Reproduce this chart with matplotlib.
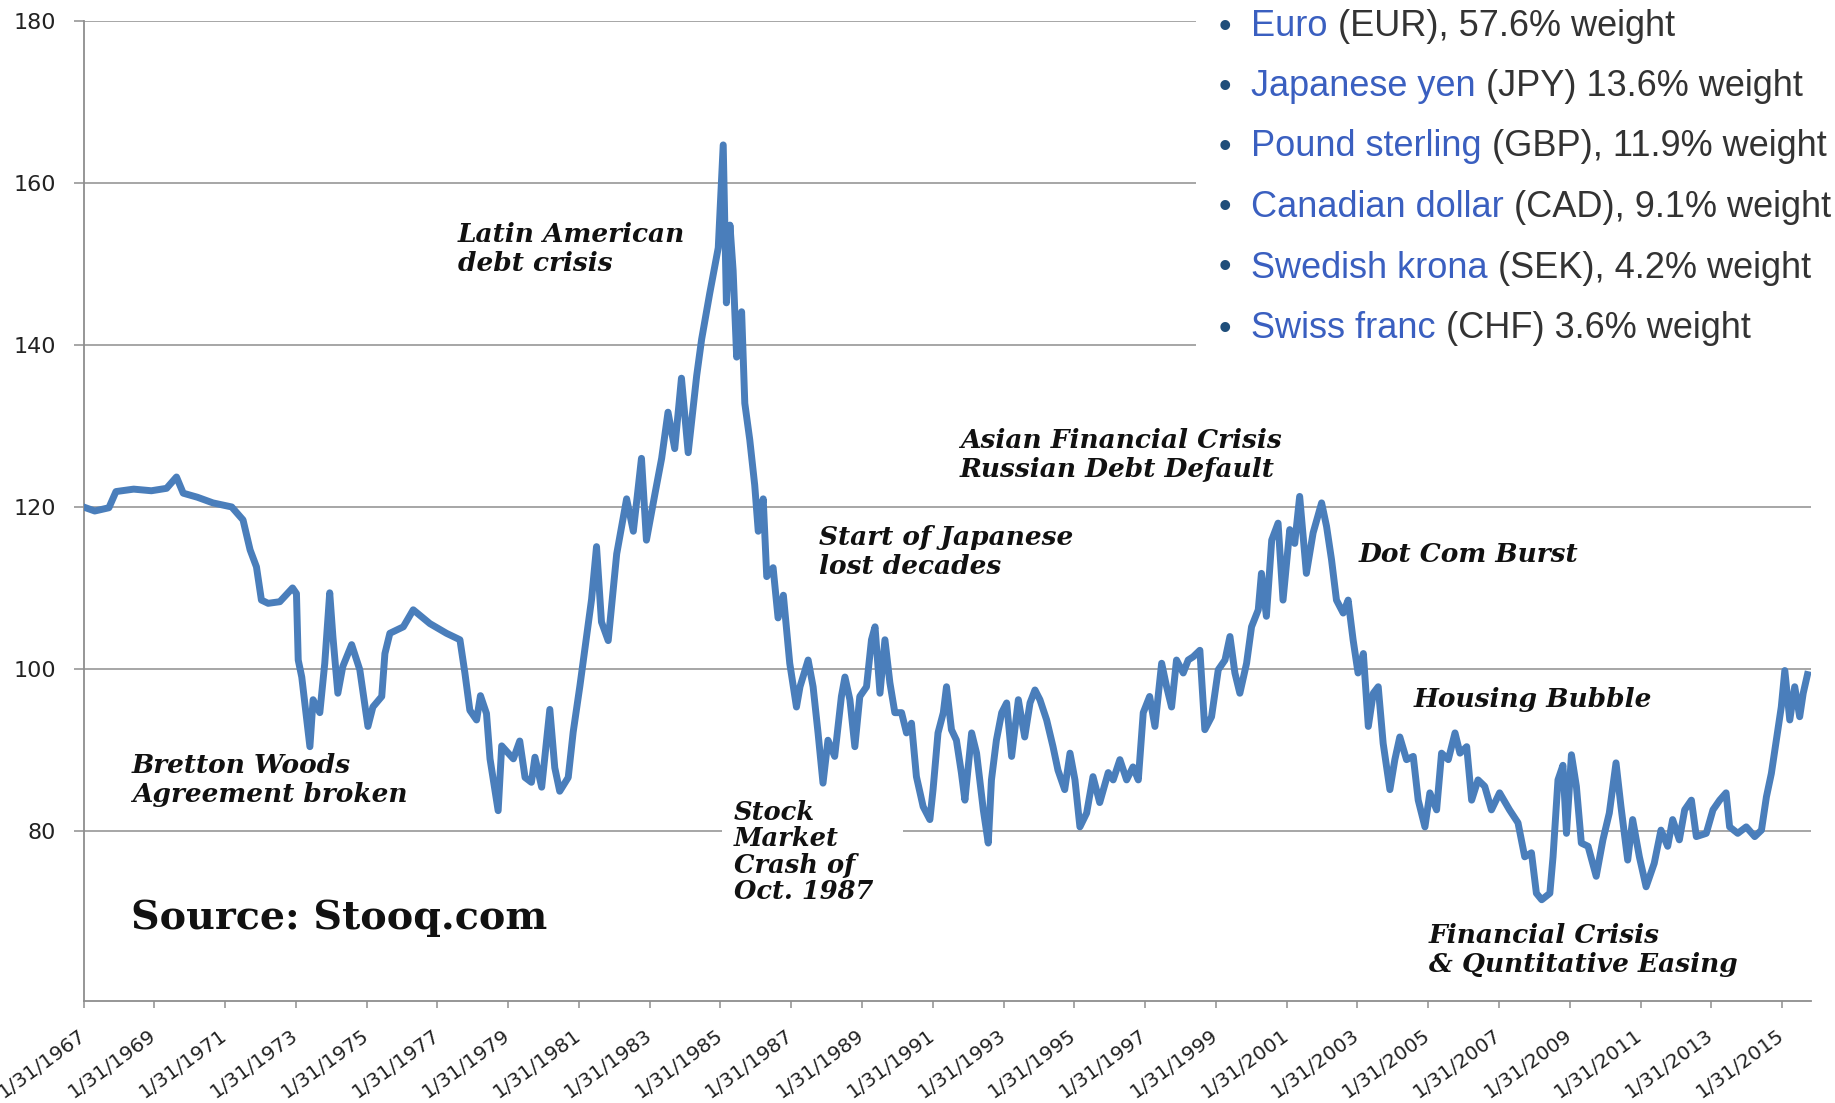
import matplotlib
matplotlib.use('Agg')
import matplotlib.pyplot as plt
from matplotlib.patches import Rectangle

# US dollar index (decimal year, value)
years = [1967.08, 1967.4, 1967.8, 1968.0, 1968.5, 1969.0, 1969.43, 1969.71, 1969.9, 1970.3,
         1970.74, 1971.27, 1971.59, 1971.79, 1971.97, 1972.11, 1972.3, 1972.63, 1972.99, 1973.1,
         1973.15, 1973.25, 1973.48, 1973.57, 1973.76, 1973.9, 1974.04, 1974.13, 1974.27, 1974.41,
         1974.66, 1974.89, 1975.12, 1975.26, 1975.51, 1975.6, 1975.74, 1976.12, 1976.4, 1976.87,
         1977.34, 1977.72, 1977.86, 1978.0, 1978.19, 1978.3, 1978.47, 1978.57, 1978.8, 1978.9,
         1979.23, 1979.41, 1979.56, 1979.74, 1979.84, 1980.03, 1980.26, 1980.4, 1980.54, 1980.78,
         1980.92, 1981.11, 1981.3, 1981.44, 1981.58, 1981.72, 1981.91, 1982.15, 1982.43, 1982.62,
         1982.85, 1982.99, 1983.23, 1983.42, 1983.6, 1983.79, 1983.98, 1984.17, 1984.41, 1984.55,
         1984.78, 1985.02, 1985.16, 1985.25, 1985.35, 1985.44, 1985.54, 1985.68, 1985.77, 1985.91,
         1986.05, 1986.15, 1986.29, 1986.39, 1986.57, 1986.71, 1986.86, 1987.04, 1987.23, 1987.33,
         1987.56, 1987.7, 1987.84, 1987.98, 1988.12, 1988.31, 1988.5, 1988.6, 1988.74, 1988.88,
         1989.02, 1989.21, 1989.35, 1989.45, 1989.59, 1989.73, 1989.87, 1990.01, 1990.2, 1990.34,
         1990.48, 1990.62, 1990.81, 1991.0, 1991.09, 1991.23, 1991.38, 1991.47, 1991.61, 1991.75,
         1991.89, 1991.99, 1992.18, 1992.32, 1992.51, 1992.65, 1992.74, 1992.88, 1993.03, 1993.17,
         1993.31, 1993.5, 1993.68, 1993.83, 1993.97, 1994.11, 1994.3, 1994.48, 1994.62, 1994.81,
         1994.96, 1995.1, 1995.24, 1995.43, 1995.61, 1995.8, 1996.04, 1996.18, 1996.37, 1996.56,
         1996.74, 1996.89, 1997.03, 1997.21, 1997.36, 1997.55, 1997.69, 1997.83, 1997.97, 1998.16,
         1998.3, 1998.44, 1998.63, 1998.77, 1998.96, 1999.15, 1999.34, 1999.48, 1999.62, 1999.76,
         1999.95, 2000.09, 2000.28, 2000.37, 2000.51, 2000.66, 2000.84, 2000.98, 2001.17, 2001.31,
         2001.45, 2001.64, 2001.83, 2002.07, 2002.21, 2002.35, 2002.49, 2002.68, 2002.82, 2002.96,
         2003.1, 2003.25, 2003.39, 2003.53, 2003.67, 2003.81, 2004.0, 2004.14, 2004.28, 2004.47,
         2004.66, 2004.8, 2004.99, 2005.13, 2005.32, 2005.46, 2005.65, 2005.84, 2005.98, 2006.17,
         2006.31, 2006.49, 2006.68, 2006.87, 2007.1, 2007.38, 2007.62, 2007.81, 2008.0, 2008.14,
         2008.29, 2008.52, 2008.61, 2008.75, 2008.89, 2008.99, 2009.13, 2009.27, 2009.41, 2009.6,
         2009.83, 2010.02, 2010.2, 2010.39, 2010.53, 2010.72, 2010.86, 2011.05, 2011.24, 2011.47,
         2011.66, 2011.85, 2011.99, 2012.18, 2012.33, 2012.52, 2012.66, 2012.94, 2013.13, 2013.32,
         2013.5, 2013.6, 2013.83, 2014.07, 2014.31, 2014.5, 2014.64, 2014.78, 2014.92, 2015.06,
         2015.16, 2015.3, 2015.44, 2015.58, 2015.68, 2015.8]
values = [120.0, 119.5, 119.9, 121.9, 122.2, 122.0, 122.3, 123.7, 121.7, 121.2,
          120.5, 120.0, 118.4, 114.7, 112.6, 108.5, 108.1, 108.3, 110.0, 109.3,
          101.1, 99.0, 90.4, 96.2, 94.6, 100.7, 109.4, 104.0, 97.0, 100.3,
          103.0, 99.9, 92.9, 95.3, 96.6, 101.9, 104.4, 105.2, 107.3, 105.6,
          104.4, 103.6, 99.5, 94.9, 93.7, 96.7, 94.5, 88.9, 82.5, 90.5,
          88.9, 91.1, 86.6, 86.0, 89.1, 85.4, 95.0, 87.8, 84.9, 86.6,
          92.2, 97.9, 104.1, 108.6, 115.1, 105.8, 103.5, 114.2, 121.0, 117.0,
          126.0, 115.9, 121.6, 126.0, 131.7, 127.2, 135.9, 126.7, 136.2, 140.7,
          146.4, 152.0, 164.7, 145.2, 154.8, 149.2, 138.5, 144.1, 132.8, 128.3,
          122.7, 117.0, 121.0, 111.4, 112.5, 106.3, 109.1, 100.7, 95.3, 97.8,
          101.1, 97.8, 92.1, 85.9, 91.2, 89.2, 96.6, 99.0, 96.2, 90.4,
          96.6, 97.8, 103.6, 105.2, 97.0, 103.6, 98.3, 94.6, 94.6, 92.1,
          93.3, 86.7, 83.0, 81.4, 85.1, 92.1, 94.6, 97.8, 92.5, 91.2,
          87.2, 83.8, 92.1, 89.6, 82.6, 78.5, 86.3, 91.2, 94.6, 95.8,
          89.2, 96.2, 91.6, 95.8, 97.4, 96.2, 93.7, 90.4, 87.5, 85.1,
          89.6, 86.3, 80.5, 82.2, 86.7, 83.5, 87.2, 86.3, 88.8, 86.3,
          87.9, 86.3, 94.6, 96.6, 92.9, 100.7, 97.8, 95.3, 101.1, 99.5,
          101.1, 101.5, 102.3, 92.5, 94.1, 99.9, 101.1, 104.0, 99.5, 97.0,
          100.7, 105.2, 107.3, 111.8, 106.5, 115.9, 118.0, 108.5, 117.2, 115.5,
          121.3, 111.8, 116.8, 120.5, 117.6, 113.5, 108.5, 106.9, 108.5, 103.6,
          99.5, 101.9, 92.9, 97.0, 97.8, 90.8, 85.1, 88.8, 91.6, 88.8,
          89.2, 83.8, 80.5, 84.7, 82.6, 89.6, 88.8, 92.1, 89.6, 90.4,
          83.8, 86.3, 85.5, 82.6, 84.7, 82.6, 81.0, 76.8, 77.3, 72.3,
          71.5, 72.3, 76.8, 86.3, 88.1, 79.7, 89.4, 85.5, 78.5, 78.1,
          74.4, 78.9, 82.2, 88.4, 83.0, 76.4, 81.4, 76.8, 73.1, 76.0,
          80.1, 78.1, 81.4, 78.9, 82.6, 83.8, 79.3, 79.7, 82.6, 83.8,
          84.7, 80.5, 79.7, 80.5, 79.3, 80.1, 84.2, 87.1, 91.2, 95.3,
          99.8, 93.7, 97.8, 94.1, 97.0, 99.3]

tick_years = list(range(1967, 2016, 2))
ytick_vals = [80, 100, 120, 140, 160, 180]

basket_names = ['Euro', 'Japanese yen', 'Pound sterling', 'Canadian dollar',
                'Swedish krona', 'Swiss franc']
basket_rest = [' (EUR), 57.6% weight', ' (JPY) 13.6% weight', ' (GBP), 11.9% weight',
               ' (CAD), 9.1% weight', ' (SEK), 4.2% weight', ' (CHF) 3.6% weight']

event_labels = ['Latin American\ndebt crisis', 'Bretton Woods\nAgreement broken',
                'Start of Japanese\nlost decades', 'Asian Financial Crisis\nRussian Debt Default',
                'Dot Com Burst', 'Housing Bubble', 'Financial Crisis\n& Quntitative Easing']
event_px = [(458, 249), (132, 780), (819, 552), (960, 455), (1359, 554), (1414, 700), (1429, 950)]

W, H = 1835, 1103
GRID = '#8e8e8e'
BLUE = '#4a7ebb'


def px(x, y):
    return x / W, 1 - y / H


fig = plt.figure(figsize=(W / 100, H / 100), dpi=100)
ax = fig.add_axes([83.5 / W, 1 - 1001 / H, (1811 - 83.5) / W, (1001 - 21) / H])

ax.plot(years, values, color=BLUE, lw=5, solid_joinstyle='round', zorder=3)

ax.set_ylim(59, 180)
ax.set_yticks(ytick_vals)
ax.set_yticklabels([str(v) for v in ytick_vals], fontsize=16, color='#222222')
xt = [y + 30 / 365 for y in tick_years]
ax.set_xlim(xt[0], 2015.9)
ax.set_xticks(xt)
ax.set_xticklabels(['1/31/%d' % y for y in tick_years], fontsize=14.5, color='#222222')
for lab in ax.get_xticklabels():
    lab.set_rotation(36)
    lab.set_ha('right')
    lab.set_va('center')
    lab.set_rotation_mode('anchor')

ax.grid(axis='y', color=GRID, lw=1.1)
ax.set_axisbelow(True)
for s in ['top', 'right']:
    ax.spines[s].set_visible(False)
for s in ['left', 'bottom']:
    ax.spines[s].set_color(GRID)
    ax.spines[s].set_linewidth(1.3)
ax.tick_params(axis='y', length=7, width=1.1, color=GRID, pad=13)
ax.tick_params(axis='x', length=5, width=1.1, color=GRID, pad=18)

# white box behind the currency basket list
ax.add_patch(Rectangle(px(1196, 356), (W - 1196) / W, 356 / H, transform=fig.transFigure,
                       facecolor='white', edgecolor='none', clip_on=False, zorder=1.5))

row_y = [27, 87, 147, 208, 268, 329]
for name, rest, ry in zip(basket_names, basket_rest, row_y):
    fig.text(*px(1225, ry), '\u2022', fontsize=26, color='#1f4e7a', ha='center', va='center',
             family='Liberation Sans', zorder=4)
    t1 = fig.text(*px(1251, ry), name, fontsize=26, color='#3a5fc0', ha='left', va='center',
                  family='Liberation Sans', zorder=4)
    ax.annotate(rest, xy=(1, 0), xycoords=t1, ha='left', va='bottom', fontsize=26,
                color='#333333', family='Liberation Sans', annotation_clip=False, zorder=4)

ev_font = dict(family='DejaVu Serif', style='italic', weight='bold', color='#111111')
for lab, (x, y) in zip(event_labels, event_px):
    fig.text(*px(x, y), lab, fontsize=19, ha='left', va='center', linespacing=1.2, **ev_font)

# the crash label sits on a white box that hides the 80 gridline
ax.add_patch(Rectangle(px(722, 905), (903 - 722) / W, 110 / H, transform=fig.transFigure,
                       facecolor='white', edgecolor='none', clip_on=False, zorder=1.5))
ax.text(*px(734, 852), 'Stock\nMarket\nCrash of\nOct. 1987', transform=fig.transFigure,
        fontsize=18.5, ha='left', va='center', linespacing=1.08, zorder=2, **ev_font)

fig.text(*px(131, 918), 'Source: Stooq.com', fontsize=28.5, weight='bold', family='DejaVu Serif',
         color='#111111', ha='left', va='center')

fig.savefig('out.png', dpi=100, facecolor='white')
